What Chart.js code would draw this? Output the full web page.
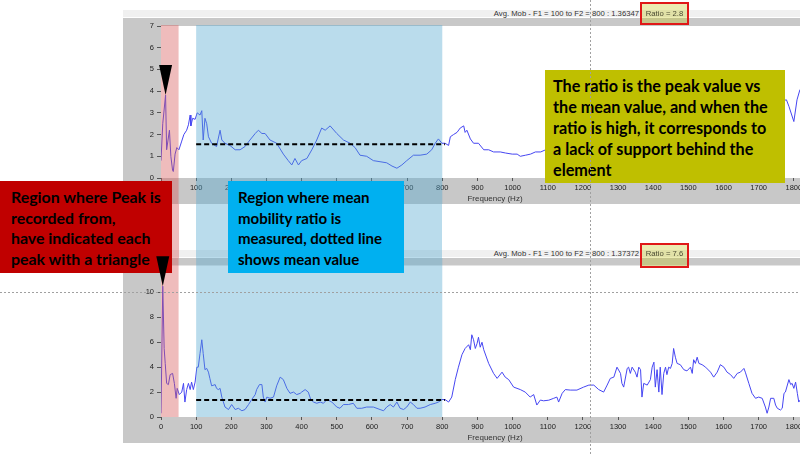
<!DOCTYPE html>
<html>
<head>
<meta charset="utf-8">
<title>Movilidad - ratio pico / media</title>
<script src="https://cdn.jsdelivr.net/npm/chart.js@4.4.1/dist/chart.umd.min.js"></script>
<style>
  html, body { margin: 0; padding: 0; background: #fff; }
  #lienzo { position: relative; width: 800px; height: 454px; overflow: hidden; font-family: "Liberation Sans", Arial, sans-serif; }
  canvas { position: absolute; }
  .franja { position: absolute; left: 123px; width: 677px; height: 7px; background: #f0f0f0; }
  .cabecera { position: absolute; right: 161px; font-size: 7.7px; line-height: 10px; color: #333; white-space: nowrap; }
  .ratio { position: absolute; left: 640px; width: 49px; box-sizing: border-box; border: 2px solid #e01818;
           background: rgba(192, 192, 0, 0.3); font-size: 7.7px; line-height: 10px; color: #4a4a30; text-align: center; white-space: nowrap; }
  .banda { position: absolute; }
  .nota { position: absolute; box-sizing: border-box; font-family: Lato, "Open Sans", sans-serif; font-weight: bold;
          font-size: 15px; line-height: 20.7px; color: #000; padding-top: 6px; white-space: nowrap; }
</style>
</head>
<body>
<div id="lienzo">
  <div class="franja" style="top:10px"></div>
  <div class="franja" style="top:250px"></div>
  <div class="cabecera" style="top:9px" id="cabeceraArriba"></div>
  <div class="cabecera" style="top:249px" id="cabeceraAbajo"></div>

  <canvas id="grafica-arriba" width="706" height="186" style="left:123px;top:18px"></canvas>
  <canvas id="grafica-abajo" width="706" height="185" style="left:123px;top:258px"></canvas>

  <div class="banda" id="huecoPico"></div>
  <div class="banda" id="huecoMedia"></div>

  <div class="ratio" id="ratioArriba" style="top:2px;height:23px;padding-top:5px"></div>
  <div class="ratio" id="ratioAbajo" style="top:243px;height:25px;padding-top:4px"></div>

  <div class="nota" style="left:0;top:181px;width:172px;height:92px;background:#c00000;padding-left:11px;font-size:15.9px">Region where Peak is<br>recorded from,<br>have indicated each<br>peak with a triangle</div>
  <div class="nota" style="left:228px;top:181px;width:176px;height:92px;background:#00b0f0;padding-left:10px">Region where mean<br>mobility ratio is<br>measured, dotted line<br>shows mean value</div>
  <div class="nota" style="left:545px;top:70px;width:240px;height:113px;background:#bfbf00;padding-left:8px;line-height:21px;padding-top:5px;font-size:16.2px">The ratio is the peak value vs<br>the mean value, and when the<br>ratio is high, it corresponds to<br>a lack of support behind the<br>element</div>

  <canvas id="capa" width="800" height="454" style="left:0;top:0"></canvas>
</div>

<script>
/* ******* Datos leidos de la captura ******** */
// grafica de arriba (movilidad frente a frecuencia)
const frecuenciasArriba = [
  0, 5, 13, 16, 24, 28, 33, 35, 40, 45,
  51, 59, 65, 73, 78, 83, 85, 90, 97, 103,
  111, 116, 120, 125, 130, 135, 144, 158, 168, 173,
  182, 196, 211, 225, 239, 253, 268, 277, 287, 296,
  310, 329, 348, 362, 372, 381, 391, 400, 415, 429,
  443, 457, 467, 481, 500, 519, 538, 552, 566, 585,
  604, 623, 642, 657, 671, 685, 699, 718, 737, 756,
  770, 780, 789, 799, 808, 818, 823, 832, 842, 851,
  861, 865, 870, 880, 889, 903, 918, 932, 946, 965,
  980, 999, 1013, 1022, 1037, 1051, 1065, 1080, 1094, 1779,
  1786, 1800, 1809, 1817, 1830];
const movilidadArriba = [
  0.8, 2.5, 3.82, 1.3, 2.2, 1.0, 0.35, 0.3, 1.1, 1.4,
  1.3, 1.7, 2.0, 2.2, 2.45, 2.9, 2.4, 2.75, 2.7, 3.0,
  2.9, 3.1, 1.75, 2.75, 2.5, 1.9, 1.6, 1.45, 2.2, 1.75,
  1.6, 1.5, 1.3, 1.3, 1.45, 1.75, 2.05, 2.2, 2.05, 2.05,
  1.75, 1.6, 1.1, 0.8, 0.6, 0.9, 0.6, 0.8, 0.9, 1.3,
  1.75, 2.3, 2.2, 2.4, 2.05, 1.75, 1.6, 1.4, 1.05, 1.0,
  0.8, 0.75, 0.7, 0.55, 0.45, 0.6, 0.8, 1.05, 1.05, 1.1,
  1.3, 1.6, 1.8, 1.6, 1.6, 1.5, 1.9, 2.0, 2.1, 2.3,
  2.4, 2.1, 2.2, 1.8, 1.6, 1.6, 1.3, 1.3, 1.2, 1.2,
  1.15, 1.1, 1.1, 1.0, 1.05, 1.1, 1.2, 1.2, 1.3, 3.6,
  3.3, 2.6, 3.6, 4.05, 4.3];

// grafica de abajo
const frecuenciasAbajo = [
  0, 5, 9, 12, 16, 21, 26, 33, 38, 43,
  46, 52, 59, 64, 68, 73, 78, 83, 87, 92,
  97, 102, 106, 111, 116, 120, 125, 130, 135, 139,
  144, 154, 158, 163, 168, 173, 182, 192, 201, 211,
  220, 230, 239, 249, 258, 268, 272, 280, 287, 291,
  296, 301, 310, 320, 329, 339, 348, 358, 367, 377,
  386, 396, 400, 410, 419, 426, 434, 443, 453, 462,
  472, 486, 500, 509, 519, 533, 547, 557, 571, 585,
  604, 623, 633, 642, 652, 661, 671, 680, 690, 699,
  709, 718, 728, 737, 751, 766, 780, 789, 799, 808,
  818, 827, 837, 846, 856, 865, 875, 880, 884, 889,
  894, 899, 903, 908, 913, 918, 932, 946, 956, 970,
  979, 989, 1003, 1022, 1036, 1050, 1060, 1069, 1079, 1088,
  1103, 1117, 1126, 1131, 1141, 1150, 1164, 1183, 1202, 1217,
  1231, 1245, 1259, 1269, 1278, 1288, 1297, 1307, 1311, 1316,
  1326, 1330, 1335, 1340, 1349, 1354, 1359, 1364, 1368, 1373,
  1383, 1392, 1397, 1402, 1406, 1411, 1416, 1420, 1425, 1430,
  1435, 1439, 1444, 1449, 1454, 1458, 1463, 1468, 1477, 1487,
  1496, 1506, 1511, 1515, 1520, 1525, 1530, 1539, 1549, 1563,
  1572, 1582, 1591, 1601, 1610, 1620, 1629, 1639, 1648, 1658,
  1662, 1672, 1681, 1691, 1700, 1710, 1719, 1724, 1729, 1734,
  1743, 1748, 1753, 1762, 1767, 1772, 1776, 1786, 1791, 1795,
  1800, 1805, 1810, 1814, 1819, 1830];
const movilidadAbajo = [
  0.3, 10.5, 5.5, 4.3, 2.7, 2.6, 3.4, 3.5, 2.7, 1.5,
  2.3, 1.8, 2.0, 2.7, 1.2, 2.2, 2.7, 2.2, 2.8, 2.2,
  2.8, 4.0, 4.0, 5.1, 6.2, 5.1, 3.8, 3.9, 3.6, 3.1,
  2.5, 2.6, 2.3, 2.2, 2.3, 1.6, 0.8, 0.6, 1.0, 0.6,
  0.7, 0.5, 0.6, 1.0, 1.4, 1.8, 2.2, 2.6, 2.6, 1.6,
  1.2, 1.6, 1.5, 1.6, 2.5, 3.2, 3.0, 2.3, 1.9, 2.0,
  1.8, 1.9, 2.0, 2.2, 2.0, 1.4, 1.2, 1.1, 1.2, 1.1,
  1.4, 1.2, 0.8, 0.7, 1.0, 1.0, 1.1, 0.7, 0.7, 0.8,
  0.8, 0.6, 0.5, 0.8, 1.0, 0.8, 1.2, 0.7, 0.6, 0.8,
  1.2, 1.0, 0.7, 0.7, 0.8, 1.0, 1.1, 1.2, 1.4, 1.4,
  1.2, 1.6, 3.0, 4.0, 5.0, 5.5, 5.8, 5.4, 6.6, 6.2,
  5.5, 5.9, 6.4, 5.6, 6.0, 5.4, 4.3, 3.5, 3.1, 3.6,
  3.2, 3.0, 2.4, 2.2, 2.0, 1.6, 1.8, 0.96, 1.36, 1.3,
  1.35, 1.5, 1.6, 1.2, 1.9, 2.2, 2.16, 2.16, 2.4, 2.56,
  2.56, 2.2, 2.0, 2.56, 3.1, 3.2, 4.0, 3.5, 2.7, 2.4,
  3.9, 4.0, 3.5, 4.0, 3.6, 3.2, 4.0, 3.8, 1.6, 2.7,
  2.56, 3.0, 4.0, 4.4, 2.4, 3.8, 2.0, 4.0, 1.8, 3.5,
  4.0, 3.4, 4.0, 3.9, 4.3, 5.5, 4.8, 4.3, 4.2, 3.8,
  3.7, 4.0, 3.5, 4.6, 4.3, 4.8, 4.3, 4.2, 4.0, 3.6,
  3.2, 3.6, 4.2, 4.0, 3.6, 3.4, 3.1, 3.5, 3.6, 3.9,
  3.6, 2.7, 1.9, 1.5, 1.6, 1.5, 0.8, 0.3, 0.8, 1.5,
  1.5, 0.96, 0.7, 0.56, 0.7, 1.9, 2.0, 3.0, 2.6, 2.7,
  2.3, 2.8, 1.9, 1.2, 1.4, 1.6];

// ejes
const ticksFrecuencia = [0, 100, 200, 300, 400, 500, 600, 700, 800, 900, 1000, 1100, 1200, 1300, 1400, 1500, 1600, 1700, 1800];
const ticksArriba = [0, 1, 2, 3, 4, 5, 6, 7];
const ticksAbajo = [0, 2, 4, 6, 8, 10, 12];

// medias (linea discontinua), regiones y cursor
const mediaArriba = 1.55;
const mediaAbajo = 1.36;
const regionPico = [0, 50];
const regionMedia = [100, 800];
const finLineaMedia = 808;
const cursor = [1221, 10];   // [Hz, movilidad] en la grafica de abajo

// textos de cabecera
const cabeceraArriba = "Avg. Mob - F1 = 100 to F2 = 800 : 1.36347";
const cabeceraAbajo = "Avg. Mob - F1 = 100 to F2 = 800 : 1.37372";
const ratioArriba = "Ratio = 2.8";
const ratioAbajo = "Ratio = 7.6";

const colorPico = "rgba(215, 87, 87, 0.4)";
const colorMedia = "rgba(82, 167, 207, 0.4)";


/* ** Plugins ** */
// fondo gris del marco y zona blanca de la grafica
const pluginFondo = {
  id: 'fondo',
  beforeDraw(chart) {
    const ctx = chart.ctx;
    const a = chart.chartArea;
    ctx.save();
    ctx.fillStyle = '#c8c8c8';
    ctx.fillRect(0, 0, chart.width, chart.height);
    ctx.fillStyle = '#ffffff';
    ctx.fillRect(a.left, a.top, a.right - a.left, a.bottom - a.top);
    ctx.restore();
  }
};

// bandas de las regiones, encima de la curva pero debajo de la media
const pluginBandas = {
  id: 'bandas',
  afterDatasetDraw(chart, args, opciones) {
    if (args.index !== 0) return;
    const ctx = chart.ctx;
    const x = chart.scales.x;
    const arriba = opciones.desdeBorde ? 0 : chart.chartArea.top - 1;
    const abajo = opciones.desdeBorde ? chart.chartArea.bottom : chart.height;
    ctx.save();
    ctx.fillStyle = colorPico;
    ctx.fillRect(x.getPixelForValue(regionPico[0]), arriba, x.getPixelForValue(regionPico[1]) - x.getPixelForValue(regionPico[0]), abajo - arriba);
    ctx.fillStyle = colorMedia;
    ctx.fillRect(x.getPixelForValue(regionMedia[0]), arriba, x.getPixelForValue(regionMedia[1]) - x.getPixelForValue(regionMedia[0]), abajo - arriba);
    ctx.restore();
  }
};

function crearGrafica(idCanvas, frecuencias, movilidad, media, maxY, ticksY, margenSup, desdeBorde) {
  const puntos = frecuencias.map((f, i) => ({ x: f, y: movilidad[i] }));
  const lineaMedia = [{ x: regionMedia[0], y: media }, { x: finLineaMedia, y: media }];
  const fuenteEje = { family: "'Liberation Sans', Arial", size: 7.5 };

  return new Chart(document.getElementById(idCanvas), {
    type: 'line',
    data: {
      datasets: [
        { data: puntos, borderColor: '#4646f2', borderWidth: 1, pointRadius: 0, tension: 0, order: 2 },
        { data: lineaMedia, borderColor: '#000000', borderWidth: 2, borderDash: [5, 3], pointRadius: 0, order: 1 }
      ]
    },
    options: {
      responsive: false,
      animation: false,
      events: [],
      layout: { padding: { top: margenSup, left: 0, right: 0, bottom: 0 } },
      plugins: {
        legend: false,
        tooltip: { enabled: false },
        bandas: { desdeBorde: desdeBorde }
      },
      scales: {
        x: {
          type: 'linear', min: 0, max: 1900,
          afterBuildTicks: s => { s.ticks = ticksFrecuencia.map(v => ({ value: v })); },
          afterFit: s => { s.height = 26; },
          ticks: { autoSkip: false, maxRotation: 0, color: '#222', font: fuenteEje, padding: 2, callback: v => String(v) },
          grid: { drawOnChartArea: false, tickLength: 3, color: '#555' },
          border: { display: false },
          title: { display: true, text: 'Frequency (Hz)', color: '#333', font: { family: "'Liberation Sans', Arial", size: 8 }, padding: 0 }
        },
        y: {
          type: 'linear', min: 0, max: maxY,
          afterBuildTicks: s => { s.ticks = ticksY.map(v => ({ value: v })); },
          afterFit: s => { s.width = 38; },
          ticks: { autoSkip: false, color: '#222', font: fuenteEje, padding: 3, callback: v => String(v) },
          grid: { drawOnChartArea: false, tickLength: 4, color: '#555' },
          border: { display: false }
        }
      }
    },
    plugins: [pluginFondo, pluginBandas]
  });
}

const graficaArriba = crearGrafica('grafica-arriba', frecuenciasArriba, movilidadArriba, mediaArriba, 7, ticksArriba, 8, false);
const graficaAbajo = crearGrafica('grafica-abajo', frecuenciasAbajo, movilidadAbajo, mediaAbajo, 12.16, ticksAbajo, 7, true);

/* ** Textos de cabecera ** */
document.getElementById('cabeceraArriba').textContent = cabeceraArriba;
document.getElementById('cabeceraAbajo').textContent = cabeceraAbajo;
document.getElementById('ratioArriba').textContent = ratioArriba;
document.getElementById('ratioAbajo').textContent = ratioAbajo;

/* ** Bandas en el hueco entre las dos graficas ** */
const desplX = 123;
const finArriba = 18 + 186;
const inicioAbajo = 258;
function colocarHueco(id, region, color) {
  const x = graficaArriba.scales.x;
  const el = document.getElementById(id);
  const x0 = x.getPixelForValue(region[0]) + desplX;
  const x1 = x.getPixelForValue(region[1]) + desplX;
  el.style.left = x0 + 'px';
  el.style.width = (x1 - x0) + 'px';
  el.style.top = finArriba + 'px';
  el.style.height = (inicioAbajo - finArriba) + 'px';
  el.style.background = color;
}
colocarHueco('huecoPico', regionPico, colorPico);
colocarHueco('huecoMedia', regionMedia, colorMedia);

/* ** Triangulos de pico y cursor ** */
const capa = document.getElementById('capa').getContext('2d');

function dibujarTriangulo(grafica, desplY, frecuencias, valores) {
  let iPico = 0;
  for (let i = 0; i < frecuencias.length; i++) {
    if (frecuencias[i] <= regionPico[1] && valores[i] > valores[iPico]) iPico = i;
  }
  const px = grafica.scales.x.getPixelForValue(frecuencias[iPico]) + desplX;
  const py = grafica.scales.y.getPixelForValue(valores[iPico]) + desplY;
  console.log("Pico:", frecuencias[iPico], valores[iPico]);
  capa.fillStyle = '#000';
  capa.beginPath();
  capa.moveTo(px - 6.5, py - 30);
  capa.lineTo(px + 6.5, py - 30);
  capa.lineTo(px, py);
  capa.closePath();
  capa.fill();
}
dibujarTriangulo(graficaArriba, 18, frecuenciasArriba, movilidadArriba);
dibujarTriangulo(graficaAbajo, inicioAbajo, frecuenciasAbajo, movilidadAbajo);

// cursor en cruz, lineas punteadas grises
const cx = Math.round(graficaAbajo.scales.x.getPixelForValue(cursor[0]) + desplX) + 0.5;
const cy = Math.round(graficaAbajo.scales.y.getPixelForValue(cursor[1]) + inicioAbajo) + 0.5;
capa.strokeStyle = '#a0a0a0';
capa.lineWidth = 1;
capa.setLineDash([2, 2]);
capa.beginPath();
capa.moveTo(cx, 0); capa.lineTo(cx, 454);
capa.moveTo(0, cy); capa.lineTo(800, cy);
capa.stroke();

console.log("Puntos arriba:", frecuenciasArriba.length, movilidadArriba.length);
console.log("Puntos abajo:", frecuenciasAbajo.length, movilidadAbajo.length);
</script>
</body>
</html>
